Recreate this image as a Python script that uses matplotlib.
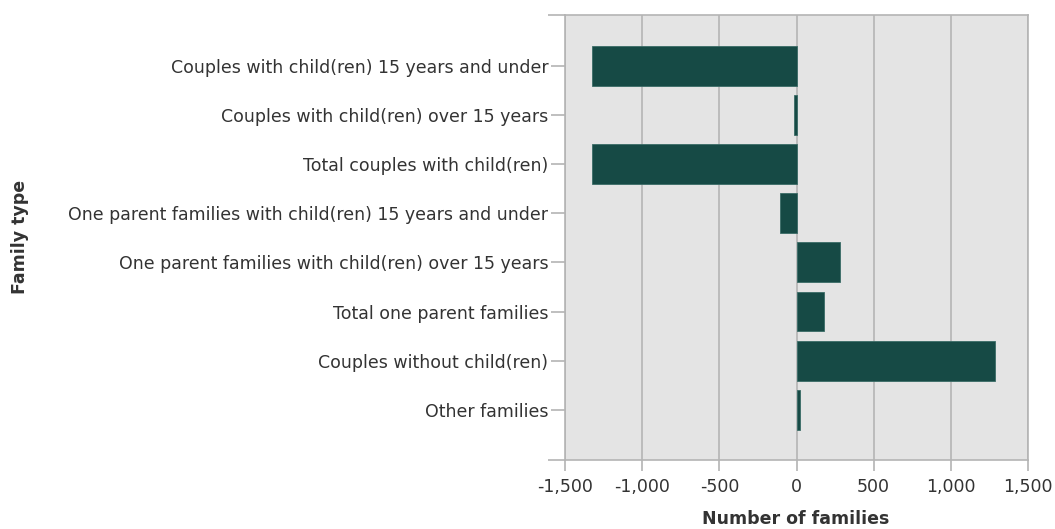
import matplotlib
matplotlib.use("Agg")
import matplotlib.pyplot as plt
from matplotlib.ticker import FuncFormatter

categories = [
    "Couples with child(ren) 15 years and under",
    "Couples with child(ren) over 15 years",
    "Total couples with child(ren)",
    "One parent families with child(ren) 15 years and under",
    "One parent families with child(ren) over 15 years",
    "Total one parent families",
    "Couples without child(ren)",
    "Other families",
]
values = [-1324, -17, -1324, -104, 281, 181, 1289, 22]
xticks = [-1500, -1000, -500, 0, 500, 1000, 1500]

plt.rcParams['font.family'] = ['DejaVu Sans']

fig = plt.figure(figsize=(10.55, 5.29), dpi=100)
ax = fig.add_axes([565/1055, 1-460/529, (1028-565)/1055, (460-15)/529])

ypos = list(range(len(categories)))
ax.barh(ypos, values, height=0.81, color="#164a45", edgecolor="#3a6b66", linewidth=0.6, zorder=3)

ax.set_facecolor("#e4e4e4")
ax.set_xlim(-1500, 1500)
ylo, yhi = -1.03, len(categories) + 0.02
ax.set_ylim(yhi, ylo)
ax.set_xticks(xticks)
ax.xaxis.set_major_formatter(FuncFormatter(lambda v, p: f"{int(v):,}"))
ax.set_yticks(ypos)
ax.set_yticklabels(categories)
ax.set_yticks([ylo, yhi], minor=True)
ax.grid(axis="x", color="#b4b4b4", linewidth=1.2, zorder=0)
ax.set_axisbelow(True)
for s in ax.spines.values():
    s.set_color("#b4b4b4")
    s.set_linewidth(1.2)
ax.tick_params(axis="both", which="both", colors="#b4b4b4", labelcolor="#333333", labelsize=12.5, width=1.2)
ax.tick_params(axis="y", which="major", length=10, pad=2)
ax.tick_params(axis="y", which="minor", length=12)
ax.tick_params(axis="x", length=8, pad=5)

fig.text(20/1055, 1-237/529, "Family type", rotation=90, ha="center", va="center",
         fontsize=12.5, fontweight="bold", color="#333333")
fig.text(796/1055, 1-519/529, "Number of families", ha="center", va="center",
         fontsize=12.5, fontweight="bold", color="#333333")

fig.savefig("out.png", dpi=100, facecolor="white")
